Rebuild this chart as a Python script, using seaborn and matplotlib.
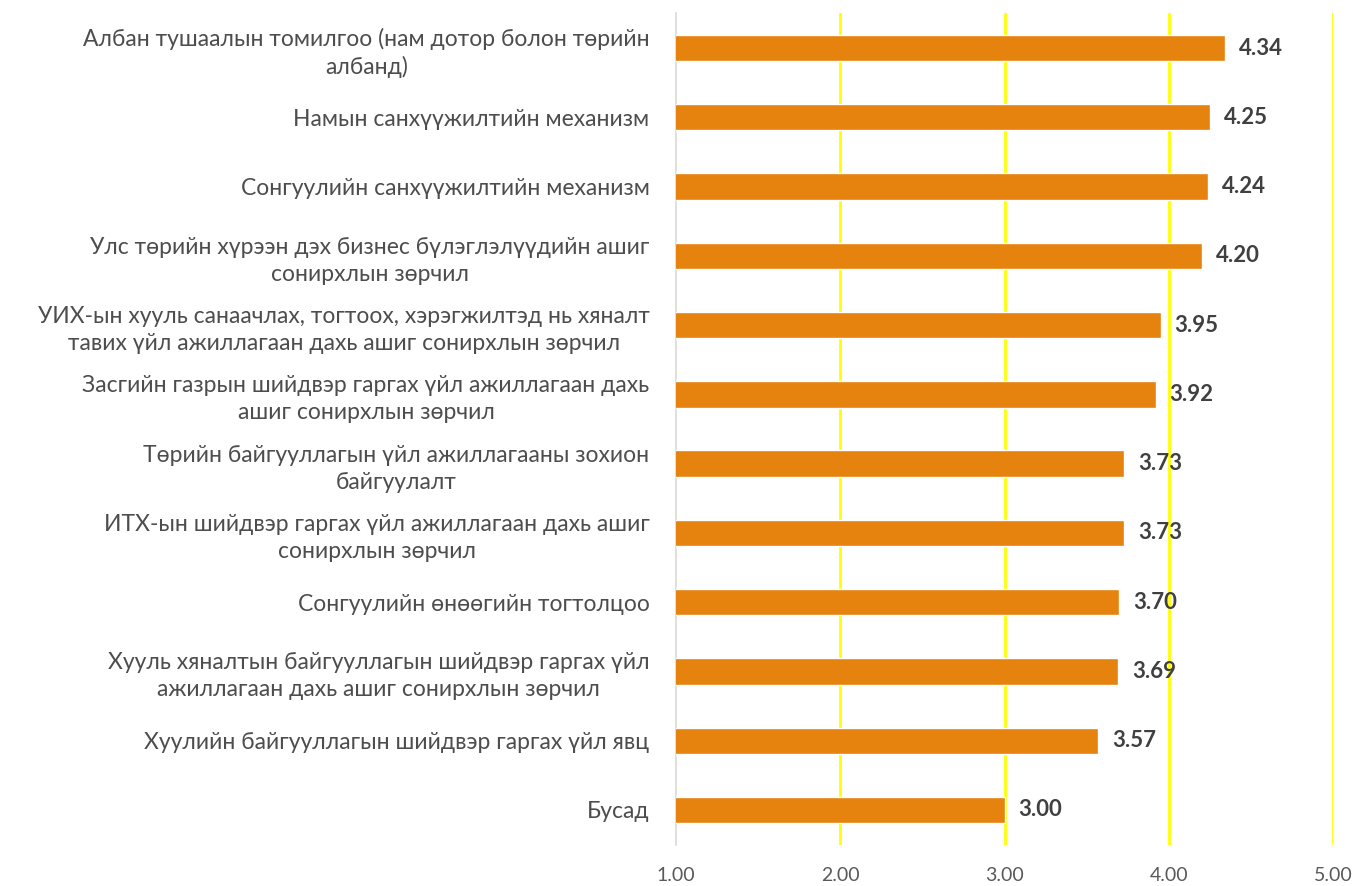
import matplotlib
matplotlib.use("Agg")
import matplotlib.pyplot as plt
import seaborn as sns
import pandas as pd

categories = [
    "Албан тушаалын томилгоо (нам дотор болон төрийн\nалбанд)",
    "Намын санхүүжилтийн механизм",
    "Сонгуулийн санхүүжилтийн механизм",
    "Улс төрийн хүрээн дэх бизнес бүлэглэлүүдийн ашиг\nсонирхлын зөрчил",
    "УИХ-ын хууль санаачлах, тогтоох, хэрэгжилтэд нь хяналт\nтавих үйл ажиллагаан дахь ашиг сонирхлын зөрчил",
    "Засгийн газрын шийдвэр гаргах үйл ажиллагаан дахь\nашиг сонирхлын зөрчил",
    "Төрийн байгууллагын үйл ажиллагааны зохион\nбайгуулалт",
    "ИТХ-ын шийдвэр гаргах үйл ажиллагаан дахь ашиг\nсонирхлын зөрчил",
    "Сонгуулийн өнөөгийн тогтолцоо",
    "Хууль хяналтын байгууллагын шийдвэр гаргах үйл\nажиллагаан дахь ашиг сонирхлын зөрчил",
    "Хуулийн байгууллагын шийдвэр гаргах үйл явц",
    "Бусад",
]
values = [4.34, 4.25, 4.24, 4.20, 3.95, 3.92, 3.73, 3.73, 3.70, 3.69, 3.57, 3.00]
x_ticks = [1.0, 2.0, 3.0, 4.0, 5.0]

df = pd.DataFrame({"category": categories, "value": values})

sns.set_theme(style="white")
plt.rcParams["font.family"] = ["Lato", "DejaVu Sans"]

fig = plt.figure(figsize=(13.58, 8.86), dpi=100)
ax = fig.add_axes([0.4978, 0.0467, 0.9816 - 0.4978, 0.9849 - 0.0467])

sns.barplot(data=df, x="value", y="category", orient="h", color="#E6820E",
            saturation=1, width=0.38, ax=ax, zorder=3)

ax.set_xlim(1, 5)
ax.set_ylim(len(categories) - 0.5, -0.5)
ax.set_xticks(x_ticks)
ax.set_xticklabels([f"{t:.2f}" for t in x_ticks])
for t in x_ticks[1:]:
    ax.axvline(t, color="#FFFF00", linewidth=2, zorder=1)

for s in ["top", "right", "bottom"]:
    ax.spines[s].set_visible(False)
ax.spines["left"].set_color("#D9D9D9")
ax.spines["left"].set_linewidth(1.2)

ax.set_xlabel("")
ax.set_ylabel("")
ax.tick_params(axis="x", length=0, pad=16, labelsize=14, labelcolor="#595959")
ax.tick_params(axis="y", length=0, pad=19, labelsize=16.5, labelcolor="#4D4D4D")
for lbl in ax.get_yticklabels():
    lbl.set_multialignment("center")
    lbl.set_linespacing(1.35)

for i, v in enumerate(values):
    ax.text(v + 0.085, i, f"{v:.2f}", va="center", ha="left", fontsize=16,
            fontweight="bold", color="#404040", zorder=4)

fig.savefig("out.png", dpi=100, facecolor="white")
